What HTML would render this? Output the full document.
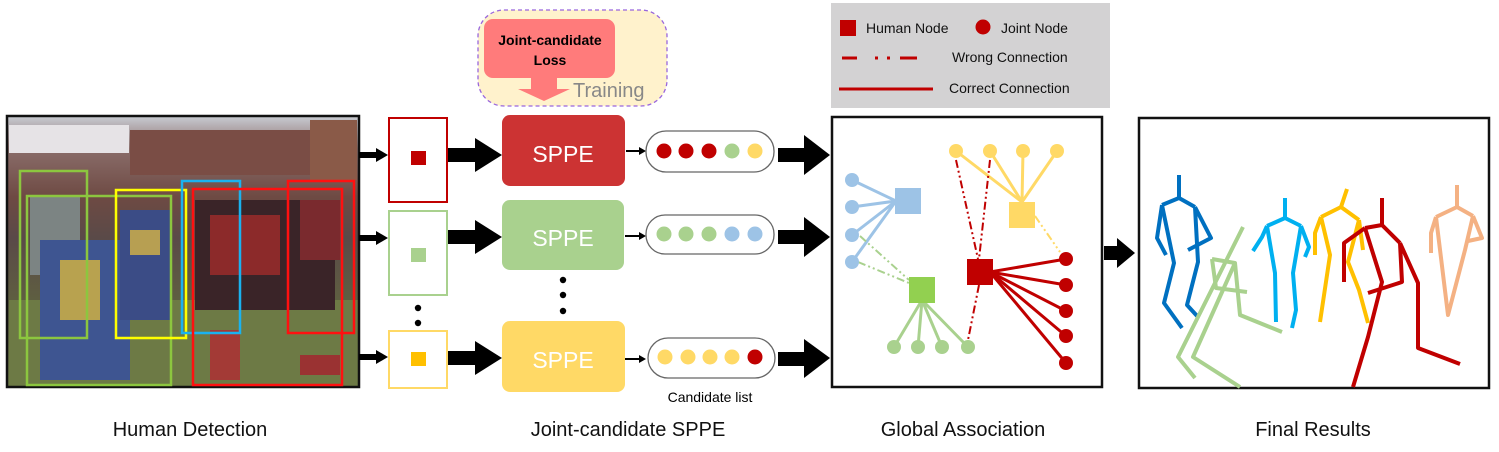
<!DOCTYPE html>
<html><head><meta charset="utf-8"><style>
body{margin:0;background:#fff;width:1499px;height:447px;overflow:hidden}
svg text{font-family:"Liberation Sans",sans-serif}
</style></head><body>
<svg width="1499" height="447" viewBox="0 0 1499 447" xmlns="http://www.w3.org/2000/svg">
<defs>
<linearGradient id="sky" x1="0" y1="0" x2="0" y2="1">
<stop offset="0" stop-color="#c9ccd3"/><stop offset="0.12" stop-color="#8a6d6a"/><stop offset="0.3" stop-color="#6e4a43"/><stop offset="0.45" stop-color="#5a4a48"/><stop offset="0.7" stop-color="#5f6040"/><stop offset="1" stop-color="#6f7a48"/>
</linearGradient>
</defs>
<!-- photo -->
<rect x="7" y="116" width="352" height="271" fill="url(#sky)"/>
<rect x="9" y="125" width="120" height="28" fill="#e6e3e6"/>
<rect x="130" y="130" width="180" height="45" fill="#7a4d45"/>
<rect x="310" y="120" width="47" height="60" fill="#8a5a48"/>
<rect x="9" y="300" width="350" height="87" fill="#6d7a45"/>
<rect x="30" y="195" width="50" height="80" fill="#7c8483"/>
<rect x="40" y="240" width="90" height="140" fill="#3e5591"/>
<rect x="60" y="260" width="40" height="60" fill="#b8a24f"/>
<rect x="120" y="210" width="50" height="110" fill="#3b4c86"/>
<rect x="130" y="230" width="30" height="25" fill="#b79f52"/>
<rect x="195" y="200" width="140" height="110" fill="#3a2428"/>
<rect x="210" y="215" width="70" height="60" fill="#8c2a2a"/>
<rect x="300" y="200" width="40" height="60" fill="#7a2a2e"/>
<rect x="210" y="330" width="30" height="50" fill="#a33a36"/>
<rect x="300" y="355" width="40" height="20" fill="#9a3232"/>
<rect x="7" y="116" width="352" height="271" fill="none" stroke="#111" stroke-width="2.5"/>
<g fill="none" stroke-width="2.5">
<rect x="20" y="171" width="67" height="167" stroke="#8cc63f"/>
<rect x="27" y="196" width="144" height="189" stroke="#8cc63f"/>
<rect x="116" y="190" width="70" height="148" stroke="#ffff00"/>
<rect x="182" y="181" width="58" height="152" stroke="#1ab2ef"/>
<rect x="193" y="189" width="149" height="196" stroke="#ff1010"/>
<rect x="288" y="181" width="66" height="152" stroke="#ff1010"/>
</g>
<!-- small arrows photo -> crops -->
<g fill="#000">
<rect x="359" y="152" width="18" height="6"/><polygon points="376,148 388,155 376,162"/>
<rect x="359" y="235" width="18" height="6"/><polygon points="376,231 388,238 376,245"/>
<rect x="359" y="354" width="18" height="6"/><polygon points="376,350 388,357 376,364"/>
</g>
<!-- crops -->
<rect x="389" y="118" width="58" height="84" fill="#fff" stroke="#c00000" stroke-width="2"/>
<rect x="411" y="151" width="15" height="14" fill="#c00000"/>
<rect x="389" y="211" width="58" height="84" fill="#fff" stroke="#a9d18e" stroke-width="2"/>
<rect x="411" y="248" width="15" height="14" fill="#a9d18e"/>
<rect x="389" y="331" width="58" height="57" fill="#fff" stroke="#ffd966" stroke-width="2"/>
<rect x="411" y="352" width="15" height="14" fill="#ffc000"/>
<circle cx="418" cy="308" r="3.2" fill="#000"/><circle cx="418" cy="323" r="3.2" fill="#000"/>
<!-- big arrows -->
<g fill="#000">
<rect x="448" y="148" width="28" height="14"/><polygon points="475,138 502,155 475,172"/>
<rect x="448" y="230" width="28" height="14"/><polygon points="475,220 502,237 475,254"/>
<rect x="448" y="351" width="28" height="14"/><polygon points="475,341 502,358 475,375"/>
<rect x="778" y="148" width="27" height="14"/><polygon points="804,135 830,155 804,175"/>
<rect x="778" y="230" width="27" height="14"/><polygon points="804,217 830,237 804,257"/>
<rect x="778" y="352" width="27" height="14"/><polygon points="804,339 830,358 804,378"/>
<rect x="1104" y="246" width="14" height="14"/><polygon points="1117,238 1135,253 1117,268"/>
</g>
<!-- training -->
<rect x="478" y="10" width="189" height="96" rx="26" fill="#fff2cc" stroke="#9966dd" stroke-width="1.3" stroke-dasharray="4,3"/>
<rect x="484" y="19" width="131" height="59" rx="9" fill="#ff7b7b"/>
<polygon points="531,78 557,78 557,89 570,89 544,101 518,89 531,89" fill="#ff7b7b"/>
<text x="550" y="45" font-size="14" font-weight="bold" text-anchor="middle" fill="#000">Joint-candidate</text>
<text x="550" y="65" font-size="14" font-weight="bold" text-anchor="middle" fill="#000">Loss</text>
<text x="573" y="97" font-size="20" fill="#888">Training</text>
<!-- SPPE boxes -->
<rect x="502" y="115" width="123" height="71" rx="8" fill="#cc3333"/>
<text x="563" y="162" font-size="23" fill="#fff" text-anchor="middle">SPPE</text>
<rect x="502" y="200" width="122" height="70" rx="8" fill="#a9d18e"/>
<text x="563" y="246" font-size="23" fill="#fff" text-anchor="middle">SPPE</text>
<rect x="502" y="321" width="123" height="71" rx="8" fill="#ffd966"/>
<text x="563" y="368" font-size="23" fill="#fff" text-anchor="middle">SPPE</text>
<circle cx="563" cy="280" r="3.2" fill="#000"/><circle cx="563" cy="295" r="3.2" fill="#000"/><circle cx="563" cy="311" r="3.2" fill="#000"/>
<!-- small arrows -->
<g stroke="#000" stroke-width="2"><line x1="626" y1="151" x2="640" y2="151"/><line x1="625" y1="236" x2="640" y2="236"/><line x1="625" y1="359" x2="640" y2="359"/></g>
<g fill="#000"><polygon points="639,147 646,151 639,155"/><polygon points="639,232 646,236 639,240"/><polygon points="639,355 646,359 639,363"/></g>
<!-- candidate pills -->
<g fill="#fff" stroke="#666" stroke-width="1.3">
<rect x="646" y="131" width="128" height="41" rx="20"/>
<rect x="646" y="215" width="128" height="39" rx="19"/>
<rect x="648" y="338" width="127" height="40" rx="20"/>
</g>
<g>
<circle cx="664" cy="151" r="7.5" fill="#c00000"/><circle cx="686" cy="151" r="7.5" fill="#c00000"/><circle cx="709" cy="151" r="7.5" fill="#c00000"/><circle cx="732" cy="151" r="7.5" fill="#a9d18e"/><circle cx="755" cy="151" r="7.5" fill="#ffd966"/>
<circle cx="664" cy="234" r="7.5" fill="#a9d18e"/><circle cx="686" cy="234" r="7.5" fill="#a9d18e"/><circle cx="709" cy="234" r="7.5" fill="#a9d18e"/><circle cx="732" cy="234" r="7.5" fill="#9dc3e6"/><circle cx="755" cy="234" r="7.5" fill="#9dc3e6"/>
<circle cx="665" cy="357" r="7.5" fill="#ffd966"/><circle cx="688" cy="357" r="7.5" fill="#ffd966"/><circle cx="710" cy="357" r="7.5" fill="#ffd966"/><circle cx="732" cy="357" r="7.5" fill="#ffd966"/><circle cx="755" cy="357" r="7.5" fill="#c00000"/>
</g>
<text x="710" y="402" font-size="14" text-anchor="middle" fill="#000">Candidate list</text>
<!-- legend -->
<rect x="831" y="3" width="279" height="105" fill="#d3d2d3"/>
<rect x="840" y="20" width="16" height="16" fill="#c00000"/>
<text x="866" y="33" font-size="14" fill="#111">Human Node</text>
<circle cx="983" cy="27" r="7.5" fill="#c00000"/>
<text x="1001" y="33" font-size="14" fill="#111">Joint Node</text>
<g stroke="#c00000" stroke-width="3"><line x1="842" y1="58" x2="857" y2="58"/><line x1="875" y1="58" x2="878" y2="58"/><line x1="887" y1="58" x2="890" y2="58"/><line x1="900" y1="58" x2="917" y2="58"/></g>
<text x="952" y="62" font-size="14" fill="#111">Wrong Connection</text>
<line x1="839" y1="89" x2="933" y2="89" stroke="#c00000" stroke-width="3"/>
<text x="949" y="93" font-size="14" fill="#111">Correct Connection</text>
<!-- global association -->
<rect x="832" y="117" width="270" height="270" fill="#fff" stroke="#111" stroke-width="2.5"/>
<g stroke-width="3" fill="none">
<g stroke="#9dc3e6"><line x1="896" y1="201" x2="852" y2="180"/><line x1="896" y1="201" x2="852" y2="207"/><line x1="896" y1="201" x2="852" y2="235"/><line x1="896" y1="201" x2="852" y2="262"/></g>
<g stroke="#ffd966"><line x1="1022" y1="202" x2="956" y2="151"/><line x1="1022" y1="202" x2="990" y2="151"/><line x1="1022" y1="202" x2="1023" y2="151"/><line x1="1022" y1="202" x2="1057" y2="151"/></g>
<g stroke="#a9d18e"><line x1="922" y1="300" x2="894" y2="347"/><line x1="922" y1="300" x2="918" y2="347"/><line x1="922" y1="300" x2="942" y2="347"/><line x1="922" y1="300" x2="968" y2="347"/></g>
<g stroke="#c00000"><line x1="990" y1="272" x2="1066" y2="259"/><line x1="990" y1="272" x2="1066" y2="285"/><line x1="990" y1="272" x2="1066" y2="311"/><line x1="990" y1="272" x2="1066" y2="336"/><line x1="990" y1="272" x2="1066" y2="363"/></g>
</g>
<g stroke-width="2" fill="none" stroke-dasharray="8,3,2,3,2,3">
<g stroke="#c00000"><line x1="956" y1="160" x2="978" y2="259"/><line x1="990" y1="160" x2="979" y2="259"/><line x1="979" y1="285" x2="968" y2="340"/></g>
<g stroke="#a9d18e"><line x1="860" y1="236" x2="909" y2="280"/><line x1="858" y1="262" x2="909" y2="283"/></g>
<line x1="1035" y1="216" x2="1060" y2="252" stroke="#ffd966"/>
</g>
<g>
<g fill="#9dc3e6"><circle cx="852" cy="180" r="7"/><circle cx="852" cy="207" r="7"/><circle cx="852" cy="235" r="7"/><circle cx="852" cy="262" r="7"/><rect x="895" y="188" width="26" height="26"/></g>
<g fill="#ffd966"><circle cx="956" cy="151" r="7"/><circle cx="990" cy="151" r="7"/><circle cx="1023" cy="151" r="7"/><circle cx="1057" cy="151" r="7"/><rect x="1009" y="202" width="26" height="26"/></g>
<g fill="#a9d18e"><circle cx="894" cy="347" r="7"/><circle cx="918" cy="347" r="7"/><circle cx="942" cy="347" r="7"/><circle cx="968" cy="347" r="7"/></g>
<rect x="909" y="277" width="26" height="26" fill="#92d050"/>
<g fill="#c00000"><circle cx="1066" cy="259" r="7"/><circle cx="1066" cy="285" r="7"/><circle cx="1066" cy="311" r="7"/><circle cx="1066" cy="336" r="7"/><circle cx="1066" cy="363" r="7"/><rect x="967" y="259" width="26" height="26"/></g>
</g>
<!-- final results -->
<rect x="1139" y="118" width="350" height="270" fill="#fff" stroke="#111" stroke-width="2.5"/>
<g fill="none" stroke-width="4" stroke-linejoin="round" stroke-linecap="butt">
<g stroke="#0070c0">
<polyline points="1179,175 1179,198"/><polyline points="1162,205 1179,198 1195,207"/>
<polyline points="1162,205 1157,238 1166,255"/><polyline points="1195,207 1211,238 1188,250"/>
<polyline points="1162,205 1174,263 1164,303 1182,328"/><polyline points="1195,207 1198,262 1187,305 1198,317"/>
</g>
<g stroke="#00b0f0">
<polyline points="1285,198 1285,218"/><polyline points="1267,226 1285,218 1301,226"/>
<polyline points="1267,226 1262,237 1253,251"/><polyline points="1301,226 1309,247 1305,257"/>
<polyline points="1267,226 1275,273 1276,322"/><polyline points="1301,226 1293,273 1296,310 1292,328"/>
</g>
<g stroke="#ffc000">
<polyline points="1347,189 1341,207"/><polyline points="1321,217 1341,207 1359,220"/>
<polyline points="1321,217 1315,233 1315,255"/><polyline points="1359,220 1363,250"/>
<polyline points="1321,217 1330,255 1320,322"/><polyline points="1359,220 1348,262 1359,290 1368,323"/>
</g>
<g stroke="#a9d18e">
<polyline points="1243,227 1178,357 1195,378"/><polyline points="1235,263 1193,357 1240,387"/>
<polyline points="1212,259 1235,263 1240,315 1282,332"/><polyline points="1212,259 1216,288 1247,292"/>
</g>
<g stroke="#c00000">
<polyline points="1382,198 1382,225"/><polyline points="1365,228 1382,225 1400,243"/>
<polyline points="1365,228 1344,243 1344,282"/><polyline points="1400,243 1402,282 1368,293"/>
<polyline points="1365,228 1382,282 1368,337 1353,387"/><polyline points="1400,243 1418,283 1418,348 1460,364"/>
</g>
<g stroke="#f4b183">
<polyline points="1457,185 1457,207"/><polyline points="1436,217 1457,207 1473,216"/>
<polyline points="1436,217 1431,233 1431,253"/><polyline points="1473,216 1482,238 1468,241"/>
<polyline points="1436,217 1448,315 1465,250 1473,216"/>
</g>
</g>
<!-- bottom labels -->
<g font-size="20" fill="#111" text-anchor="middle">
<text x="190" y="436">Human Detection</text>
<text x="628" y="436">Joint-candidate SPPE</text>
<text x="963" y="436">Global Association</text>
<text x="1313" y="436">Final Results</text>
</g>
</svg>
</body></html>
